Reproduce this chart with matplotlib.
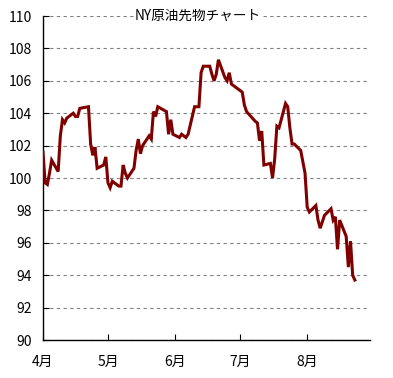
# plot.py
# NY原油先物チャート（2014年4月〜8月、終値）
import matplotlib
matplotlib.use('Agg')
import matplotlib.pyplot as plt
import pandas as pd

plt.rcParams['font.family'] = ['Noto Sans CJK JP', 'DejaVu Sans']

###########数据###########
title = 'NY原油先物チャート'
# 米国取引日（日本時間では翌日付で表示）
dates = ['2014-03-31',
         '2014-04-01', '2014-04-02', '2014-04-03', '2014-04-04',
         '2014-04-07', '2014-04-08', '2014-04-09', '2014-04-10', '2014-04-11',
         '2014-04-14', '2014-04-15', '2014-04-16', '2014-04-17',
         '2014-04-21', '2014-04-22', '2014-04-23', '2014-04-24', '2014-04-25',
         '2014-04-28', '2014-04-29', '2014-04-30', '2014-05-01', '2014-05-02',
         '2014-05-05', '2014-05-06', '2014-05-07', '2014-05-08', '2014-05-09',
         '2014-05-12', '2014-05-13', '2014-05-14', '2014-05-15', '2014-05-16',
         '2014-05-19', '2014-05-20', '2014-05-21', '2014-05-22', '2014-05-23',
         '2014-05-27', '2014-05-28', '2014-05-29', '2014-05-30',
         '2014-06-02', '2014-06-03', '2014-06-04', '2014-06-05', '2014-06-06',
         '2014-06-09', '2014-06-10', '2014-06-11', '2014-06-12', '2014-06-13',
         '2014-06-16', '2014-06-17', '2014-06-18', '2014-06-19', '2014-06-20',
         '2014-06-23', '2014-06-24', '2014-06-25', '2014-06-26', '2014-06-27',
         '2014-06-30', '2014-07-01', '2014-07-02', '2014-07-03',
         '2014-07-07', '2014-07-08', '2014-07-09', '2014-07-10', '2014-07-11',
         '2014-07-14', '2014-07-15', '2014-07-16', '2014-07-17', '2014-07-18',
         '2014-07-21', '2014-07-22', '2014-07-23', '2014-07-24', '2014-07-25',
         '2014-07-28', '2014-07-29', '2014-07-30', '2014-07-31', '2014-08-01',
         '2014-08-04', '2014-08-05', '2014-08-06', '2014-08-07', '2014-08-08',
         '2014-08-11', '2014-08-12', '2014-08-13', '2014-08-14', '2014-08-15',
         '2014-08-18', '2014-08-19', '2014-08-20', '2014-08-21', '2014-08-22']
prices = [101.6,
          99.7, 99.6, 100.3, 101.1,
          100.4, 102.6, 103.6, 103.4, 103.7,
          104.0, 103.8, 103.8, 104.3,
          104.4, 102.1, 101.4, 101.9, 100.6,
          100.8, 101.3, 99.7, 99.4, 99.8,
          99.5, 99.5, 100.8, 100.3, 100.0,
          100.6, 101.7, 102.4, 101.5, 102.0,
          102.6, 102.4, 104.1, 103.8, 104.4,
          104.1, 102.7, 103.6, 102.7,
          102.5, 102.7, 102.6, 102.5, 102.7,
          104.4, 104.4, 104.4, 106.5, 106.9,
          106.9, 106.4, 106.0, 106.4, 107.3,
          106.2, 106.0, 106.5, 105.8, 105.7,
          105.4, 105.3, 104.5, 104.1,
          103.5, 103.4, 102.3, 102.9, 100.8,
          100.9, 100.0, 101.2, 103.2, 103.1,
          104.6, 104.4, 103.1, 102.1, 102.1,
          101.7, 101.0, 100.3, 98.2, 97.9,
          98.3, 97.4, 96.9, 97.3, 97.7,
          98.1, 97.4, 97.6, 95.6, 97.4,
          96.4, 94.5, 96.1, 94.0, 93.7]
month_ticks = ['2014-04-01', '2014-05-01', '2014-06-01', '2014-07-01', '2014-08-01']
month_labels = ['4月', '5月', '6月', '7月', '8月']

###########绘图###########
fig = plt.figure(figsize=(3.93, 3.78), dpi=100)
ax = fig.add_axes([43 / 393, 38 / 378, 327 / 393, 324 / 378])

jp_dates = pd.to_datetime(dates) + pd.Timedelta(days=1)  # 日本時間
ax.plot(jp_dates, prices, color='#800000', linewidth=2.2,
        solid_joinstyle='miter', zorder=3)

ax.set_xlim(pd.Timestamp('2014-04-01'), pd.Timestamp('2014-08-30'))
ax.set_ylim(90, 110)
ax.set_yticks(range(90, 111, 2))
ax.set_xticks(pd.to_datetime(month_ticks))
ax.set_xticklabels(month_labels)

ax.grid(axis='y', color='#808080', linestyle=(0, (3, 3)), linewidth=0.8)
ax.set_axisbelow(True)
for s in ['top', 'right']:
    ax.spines[s].set_visible(False)
for s in ['left', 'bottom']:
    ax.spines[s].set_linewidth(1.0)
ax.tick_params(axis='y', direction='in', length=4, pad=8, labelsize=10)
ax.tick_params(axis='x', direction='in', length=4, pad=11, labelsize=10)

ax.text(0.474, 1.0, title, transform=ax.transAxes, ha='center', va='center',
        fontsize=9.8, bbox=dict(facecolor='white', edgecolor='none', pad=1), zorder=4)

fig.savefig('out.png', dpi=100)
